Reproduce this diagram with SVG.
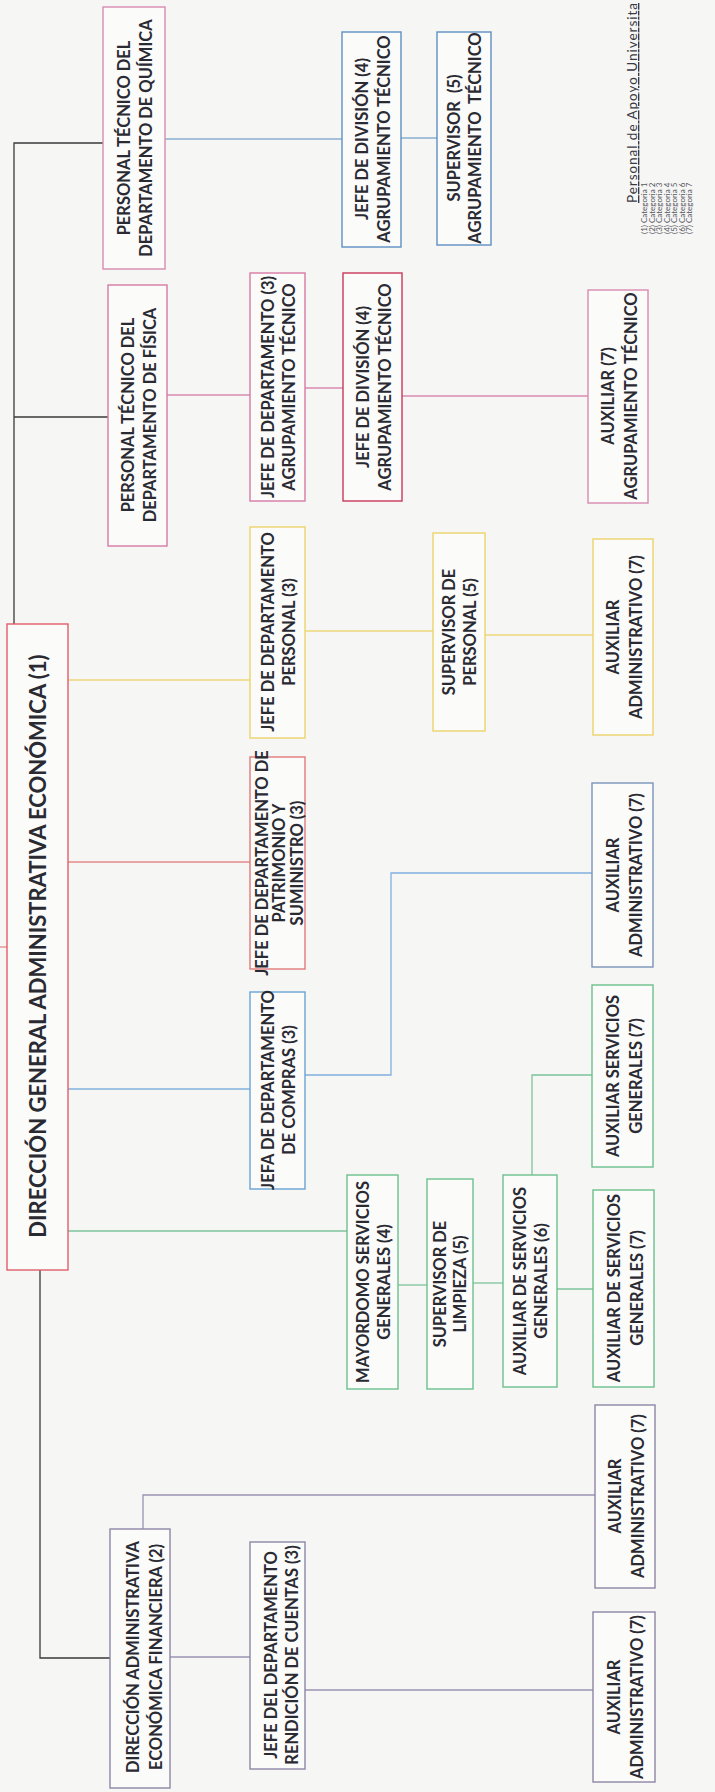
<svg xmlns="http://www.w3.org/2000/svg" width="715" height="1792" viewBox="0 0 715 1792">
<style>
.bx{fill:#fbfbfa;stroke-width:1.4}
.t{font-family:Lato,"Liberation Sans",sans-serif;font-weight:700;fill:#2a2a32;font-size:16.5px;text-anchor:middle}
.big{font-size:22px}
.lg{font-family:Lato,"Liberation Sans",sans-serif;fill:#55555e;font-size:8px}
.hd{font-size:13.5px;text-decoration:underline;fill:#3a3a44}
.c{fill:none;stroke-width:1.3}
.k{stroke:#3a3a3a}
.gp{stroke:#9a92b4}
.gr{stroke:#7cc49c}
.bl{stroke:#7fb0de}
.rd{stroke:#e48a8a}
.ye{stroke:#eed77a}
.pk{stroke:#d98ab0}
.bq{stroke:#8aaed0}
</style>
<rect x="0" y="0" width="715" height="1792" fill="#f6f6f4"/>

<g id="connectors">
<path class="c k" d="M103,143 H14 V624"/>
<path class="c k" d="M14,417 H108"/>
<path class="c k" d="M40,1270 V1658 H110"/>
<path class="c rd" d="M0,947 H7"/>
<path class="c gp" d="M143,1529 V1495 H595"/>
<path class="c gp" d="M170,1657 H250"/>
<path class="c gp" d="M305,1690 H593"/>
<path class="c gr" d="M68,1231 H347"/>
<path class="c gr" d="M398,1285 H427"/>
<path class="c gr" d="M473,1283 H503"/>
<path class="c gr" d="M557,1289 H593"/>
<path class="c gr" d="M532,1175 V1075 H592"/>
<path class="c bl" d="M68,1089 H250"/>
<path class="c bl" d="M305,1075 H391 V873 H592"/>
<path class="c rd" d="M68,862 H250"/>
<path class="c ye" d="M68,680 H250"/>
<path class="c ye" d="M305,631 H433"/>
<path class="c ye" d="M485,635 H593"/>
<path class="c pk" d="M167,395 H250"/>
<path class="c pk" d="M305,388 H343"/>
<path class="c pk" d="M402,396 H588"/>
<path class="c bq" d="M165,139 H342"/>
<path class="c bq" d="M401,138 H437"/>
</g>

<g id="n1">
<rect class="bx" x="7" y="624" width="61" height="646" stroke="#e35d6a" stroke-width="1.8"/>
<text class="t big" transform="translate(37.5,946) rotate(-90)"><tspan x="0" y="8.5">DIRECCIÓN GENERAL ADMINISTRATIVA ECONÓMICA (1)</tspan></text>
</g>

<g id="n2">
<rect class="bx" x="110" y="1529" width="60" height="259" stroke="#8e86a6"/>
<text class="t" transform="translate(140,1657) rotate(-90)"><tspan x="0" y="-1">DIRECCIÓN ADMINISTRATIVA</tspan><tspan x="0" y="22">ECONÓMICA FINANCIERA (2)</tspan></text>
</g>

<g id="n3">
<rect class="bx" x="250" y="1542" width="55" height="227" stroke="#8e86a6"/>
<text class="t" transform="translate(277.5,1655) rotate(-90)"><tspan x="0" y="-1">JEFE DEL DEPARTAMENTO</tspan><tspan x="0" y="20">RENDICIÓN DE CUENTAS (3)</tspan></text>
</g>

<g id="n4">
<rect class="bx" x="593" y="1612" width="62" height="170" stroke="#8e86a6"/>
<text class="t" transform="translate(624,1697) rotate(-90)"><tspan x="0" y="-4">AUXILIAR</tspan><tspan x="0" y="19">ADMINISTRATIVO (7)</tspan></text>
</g>

<g id="n5">
<rect class="bx" x="595" y="1405" width="60" height="183" stroke="#8e86a6"/>
<text class="t" transform="translate(625,1496) rotate(-90)"><tspan x="0" y="-4">AUXILIAR</tspan><tspan x="0" y="19">ADMINISTRATIVO (7)</tspan></text>
</g>

<g id="n6">
<rect class="bx" x="347" y="1175" width="51" height="214" stroke="#6cc08c"/>
<text class="t" transform="translate(372.5,1282) rotate(-90)"><tspan x="0" y="-4">MAYORDOMO SERVICIOS</tspan><tspan x="0" y="17">GENERALES (4)</tspan></text>
</g>

<g id="n7">
<rect class="bx" x="427" y="1179" width="46" height="210" stroke="#6cc08c"/>
<text class="t" transform="translate(450,1284) rotate(-90)"><tspan x="0" y="-4">SUPERVISOR DE</tspan><tspan x="0" y="16">LIMPIEZA (5)</tspan></text>
</g>

<g id="n8">
<rect class="bx" x="503" y="1175" width="54" height="212" stroke="#6cc08c"/>
<text class="t" transform="translate(530,1281) rotate(-90)"><tspan x="0" y="-4">AUXILIAR DE SERVICIOS</tspan><tspan x="0" y="17">GENERALES (6)</tspan></text>
</g>

<g id="n9">
<rect class="bx" x="593" y="1190" width="61" height="197" stroke="#6cc08c"/>
<text class="t" transform="translate(623.5,1288) rotate(-90)"><tspan x="0" y="-4">AUXILIAR DE SERVICIOS</tspan><tspan x="0" y="19">GENERALES (7)</tspan></text>
</g>

<g id="n10">
<rect class="bx" x="592" y="985" width="61" height="182" stroke="#6cc08c"/>
<text class="t" transform="translate(622.5,1076) rotate(-90)"><tspan x="0" y="-4">AUXILIAR SERVICIOS</tspan><tspan x="0" y="19">GENERALES (7)</tspan></text>
</g>

<g id="n11">
<rect class="bx" x="250" y="992" width="55" height="197" stroke="#6aa3d5"/>
<text class="t" transform="translate(277.5,1090) rotate(-90)"><tspan x="0" y="-4">JEFA DE DEPARTAMENTO</tspan><tspan x="0" y="17">DE COMPRAS (3)</tspan></text>
</g>

<g id="n12">
<rect class="bx" x="592" y="783" width="61" height="184" stroke="#7b94b8"/>
<text class="t" transform="translate(622.5,875) rotate(-90)"><tspan x="0" y="-4">AUXILIAR</tspan><tspan x="0" y="19">ADMINISTRATIVO (7)</tspan></text>
</g>

<g id="n13">
<rect class="bx" x="250" y="757" width="55" height="212" stroke="#e07a7a"/>
<text class="t" transform="translate(277.5,863) rotate(-90)"><tspan x="0" y="-10">JEFE DE DEPARTAMENTO DE</tspan><tspan x="0" y="7.5">PATRIMONIO Y</tspan><tspan x="0" y="25">SUMINISTRO (3)</tspan></text>
</g>

<g id="n14">
<rect class="bx" x="250" y="527" width="55" height="211" stroke="#ecd36a"/>
<text class="t" transform="translate(277.5,632) rotate(-90)"><tspan x="0" y="-4">JEFE DE DEPARTAMENTO</tspan><tspan x="0" y="17">PERSONAL (3)</tspan></text>
</g>

<g id="n15">
<rect class="bx" x="433" y="533" width="52" height="198" stroke="#ecd36a"/>
<text class="t" transform="translate(459,632) rotate(-90)"><tspan x="0" y="-4">SUPERVISOR DE</tspan><tspan x="0" y="17">PERSONAL (5)</tspan></text>
</g>

<g id="n16">
<rect class="bx" x="593" y="539" width="60" height="196" stroke="#ecd36a"/>
<text class="t" transform="translate(623,637) rotate(-90)"><tspan x="0" y="-4">AUXILIAR</tspan><tspan x="0" y="19">ADMINISTRATIVO (7)</tspan></text>
</g>

<g id="n17">
<rect class="bx" x="108" y="285" width="59" height="261" stroke="#d77aa6"/>
<text class="t" transform="translate(137.5,415) rotate(-90)"><tspan x="0" y="-4">PERSONAL TÉCNICO DEL</tspan><tspan x="0" y="18">DEPARTAMENTO DE FÍSICA</tspan></text>
</g>

<g id="n18">
<rect class="bx" x="250" y="273" width="55" height="228" stroke="#d77aa6"/>
<text class="t" transform="translate(277.5,387) rotate(-90)"><tspan x="0" y="-4">JEFE DE DEPARTAMENTO (3)</tspan><tspan x="0" y="17">AGRUPAMIENTO TÉCNICO</tspan></text>
</g>

<g id="n19">
<rect class="bx" x="343" y="273" width="59" height="228" stroke="#c8385a" stroke-width="2"/>
<text class="t" transform="translate(372.5,387) rotate(-90)"><tspan x="0" y="-4">JEFE DE DIVISIÓN (4)</tspan><tspan x="0" y="18">AGRUPAMIENTO TÉCNICO</tspan></text>
</g>

<g id="n20">
<rect class="bx" x="588" y="290" width="60" height="213" stroke="#d98ab0"/>
<text class="t" transform="translate(618,396) rotate(-90)"><tspan x="0" y="-4">AUXILIAR (7)</tspan><tspan x="0" y="19">AGRUPAMIENTO TÉCNICO</tspan></text>
</g>

<g id="n21">
<rect class="bx" x="103" y="7" width="62" height="262" stroke="#d98ab0"/>
<text class="t" transform="translate(134,138) rotate(-90)"><tspan x="0" y="-4">PERSONAL TÉCNICO DEL</tspan><tspan x="0" y="18">DEPARTAMENTO DE QUÍMICA</tspan></text>
</g>

<g id="n22">
<rect class="bx" x="342" y="32" width="59" height="215" stroke="#5f8fc4"/>
<text class="t" transform="translate(371.5,139) rotate(-90)"><tspan x="0" y="-4">JEFE DE DIVISIÓN (4)</tspan><tspan x="0" y="18">AGRUPAMIENTO TÉCNICO</tspan></text>
</g>

<g id="n23">
<rect class="bx" x="437" y="32" width="54" height="213" stroke="#5f8fc4"/>
<text class="t" transform="translate(464,138) rotate(-90)" xml:space="preserve"><tspan x="0" y="-4">SUPERVISOR  (5)</tspan><tspan x="0" y="17">AGRUPAMIENTO  TÉCNICO</tspan></text>
</g>

<g id="legend">
<text class="lg hd" transform="translate(637,203) rotate(-90)" textLength="200" lengthAdjust="spacing">Personal de Apoyo Universita</text>
<text class="lg" transform="translate(647,234) rotate(-90)">(1) Categoria 1</text>
<text class="lg" transform="translate(654.5,234) rotate(-90)">(2) Categoria 2</text>
<text class="lg" transform="translate(662,234) rotate(-90)">(3) Categoria 3</text>
<text class="lg" transform="translate(669.5,234) rotate(-90)">(4) Categoria 4</text>
<text class="lg" transform="translate(677,234) rotate(-90)">(5) Categoria 5</text>
<text class="lg" transform="translate(684.5,234) rotate(-90)">(6) Categoria 6</text>
<text class="lg" transform="translate(692,234) rotate(-90)">(7) Categoria 7</text>
</g>
</svg>
